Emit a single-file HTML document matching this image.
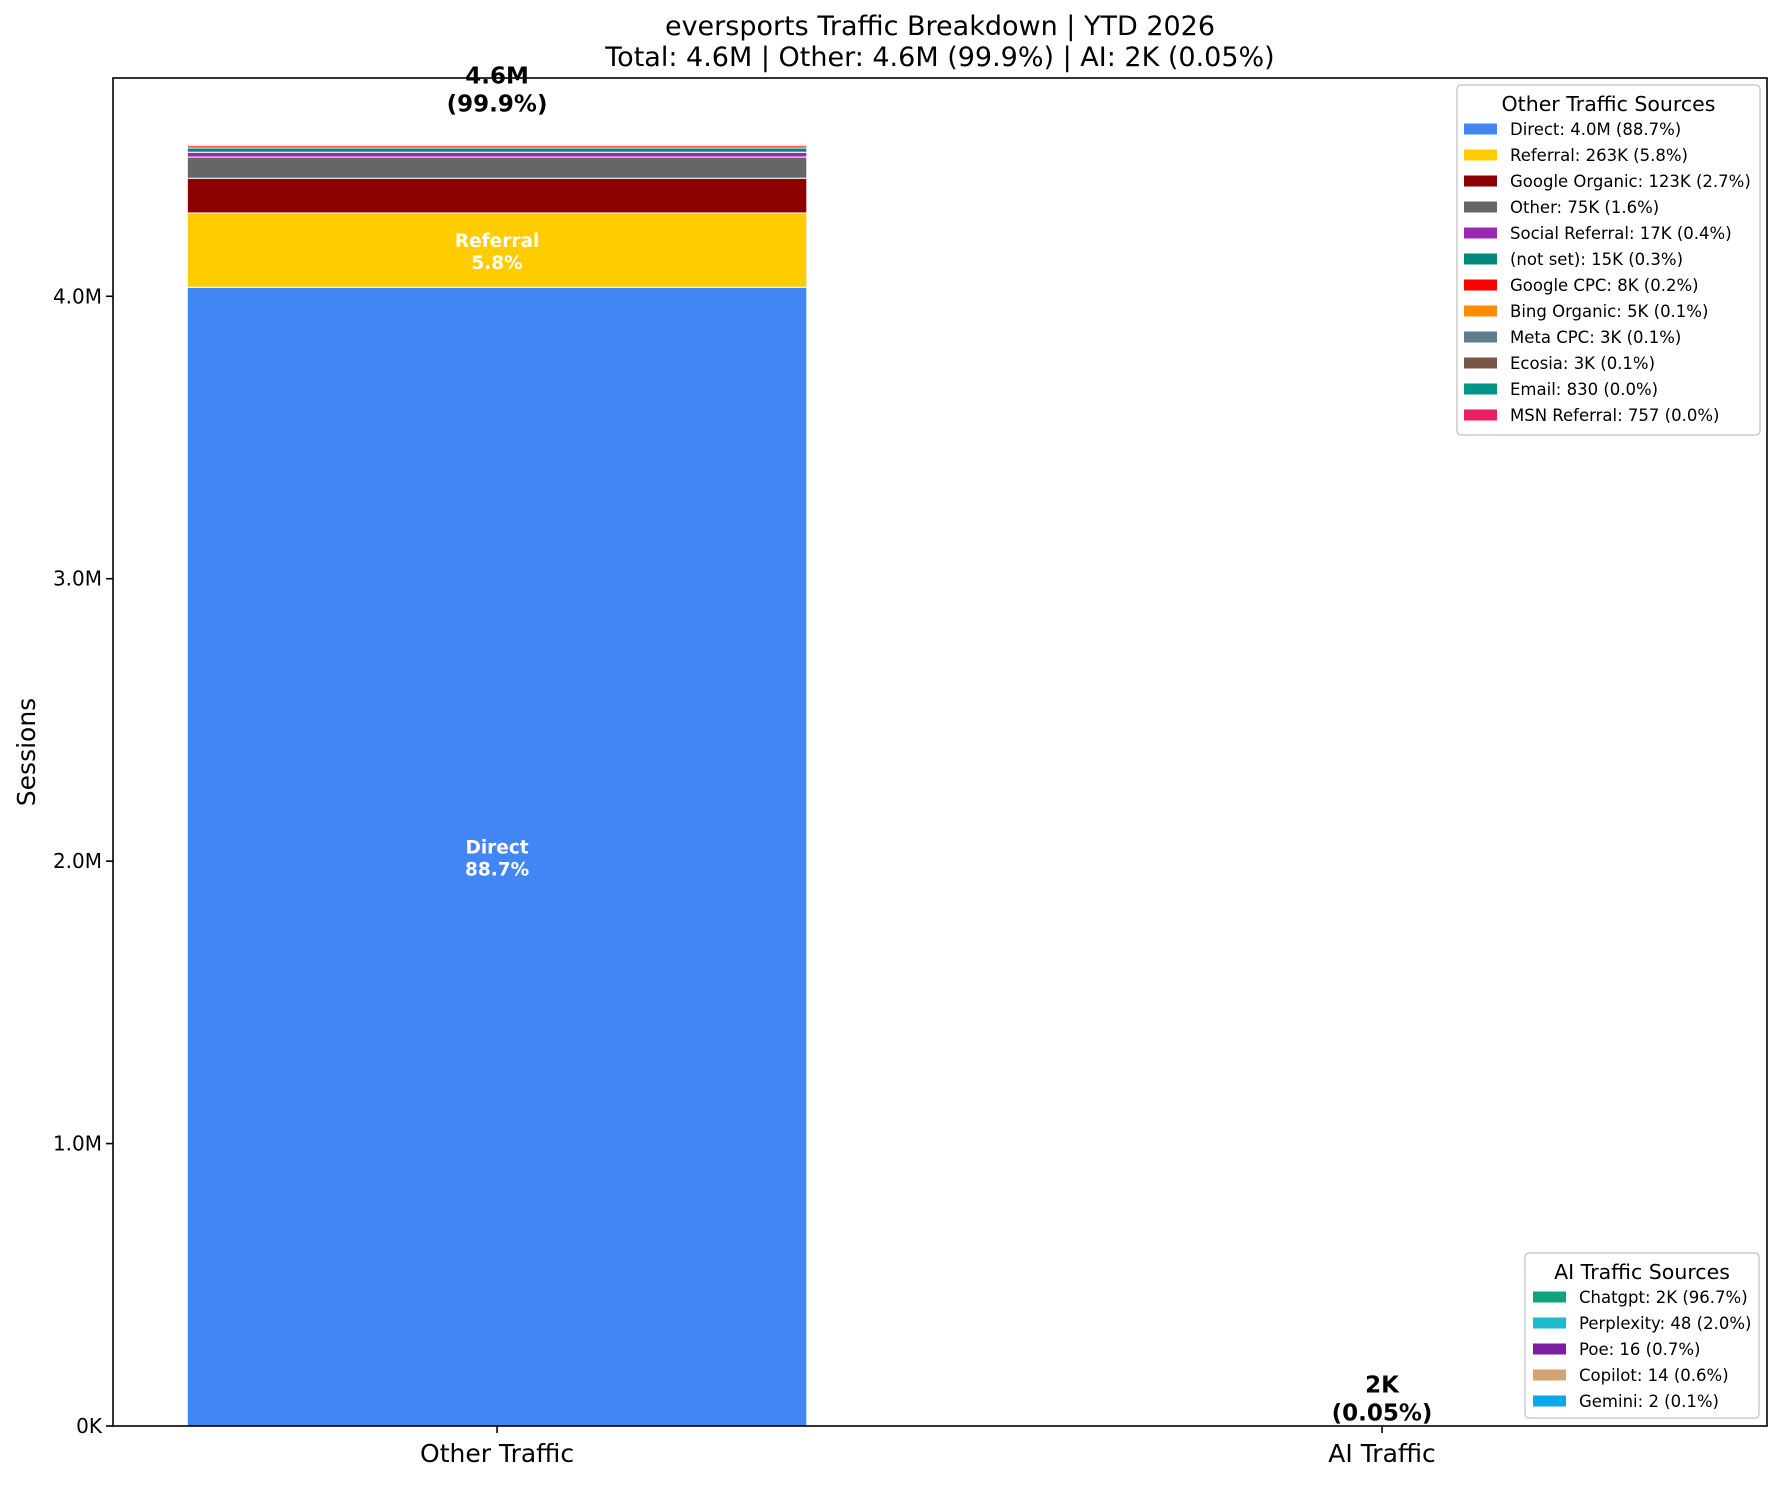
<!DOCTYPE html>
<html><head><meta charset="utf-8"><style>
body{margin:0;background:#fff}
svg text{font-family:"DejaVu Sans","Liberation Sans",sans-serif}
</style></head><body>
<svg id="chart" width="1782" height="1480" viewBox="0 0 1782 1480" xmlns="http://www.w3.org/2000/svg">
<rect width="1782" height="1480" fill="#fff"/>
<text x="940" y="35" font-size="27" text-anchor="middle">eversports Traffic Breakdown | YTD 2026</text>
<text x="940" y="66" font-size="27" text-anchor="middle">Total: 4.6M | Other: 4.6M (99.9%) | AI: 2K (0.05%)</text>
<text transform="translate(35,752) rotate(-90)" font-size="25" text-anchor="middle">Sessions</text>
<g id="plot"></g>
</svg>
<script>
const categories = ["Other Traffic", "AI Traffic"];
const otherNames = ["Direct","Referral","Google Organic","Other","Social Referral","(not set)","Google CPC","Bing Organic","Meta CPC","Ecosia","Email","MSN Referral"];
const otherValues = [4032000,263000,123000,75000,17000,15000,8000,5000,3000,3000,830,757];
const otherLabels = ["4.0M","263K","123K","75K","17K","15K","8K","5K","3K","3K","830","757"];
const otherColors = ["#4285F4","#FFCC00","#8B0000","#666666","#9C27B0","#00897B","#FF0000","#FF8C00","#607D8B","#795548","#009688","#E91E63"];
const aiNames = ["Chatgpt","Perplexity","Poe","Copilot","Gemini"];
const aiValues = [2321,48,16,14,2];
const aiLabels = ["2K","48","16","14","2"];
const aiColors = ["#10A37F","#20B8CD","#7B1FA2","#D4A373","#0EA5E9"];
const yTicks = [0,1000000,2000000,3000000,4000000];
const yTickLabels = ["0K","1.0M","2.0M","3.0M","4.0M"];

const NS="http://www.w3.org/2000/svg";
const g=document.getElementById('plot');
const L=113,R=1767,T=78,B=1426;
const sum=a=>a.reduce((s,v)=>s+v,0);
const otherTotal=sum(otherValues), aiTotal=sum(aiValues), grand=otherTotal+aiTotal;
const yMax=Math.max(otherTotal,aiTotal)*1.05;
const y=v=>B-(v/yMax)*(B-T);
const xMin=-0.434,xMax=1.435;
const x=i=>L+(i-xMin)/(xMax-xMin)*(R-L);
const bw=0.7*(R-L)/(xMax-xMin);
function el(tag,attrs,text){const e=document.createElementNS(NS,tag);for(const k in attrs)e.setAttribute(k,attrs[k]);if(text!==undefined)e.textContent=text;g.appendChild(e);return e;}
const fmtPct=v=>(v*100).toFixed(1)+'%';

function stack(ci,vals,names,colors,total){
  let base=0;
  vals.forEach((v,i)=>{
    const r=el('rect',{x:x(ci)-bw/2,y:y(base+v),width:bw,height:y(base)-y(base+v),fill:colors[i],stroke:'#fff','stroke-width':1});
    
    
    if(v/total>0.05){
      const cy=(y(base)+y(base+v))/2;
      const t1=el('text',{x:x(ci),y:cy-3,'font-size':18.5,'font-weight':'bold',fill:'#fff','text-anchor':'middle'},names[i]);
      
      
      const t2=el('text',{x:x(ci),y:cy+19,'font-size':18.5,'font-weight':'bold',fill:'#fff','text-anchor':'middle'},fmtPct(v/total));
      
      
    }
    base+=v;
  });
}
stack(0,otherValues,otherNames,otherColors,otherTotal);
stack(1,aiValues,aiNames,aiColors,aiTotal);

[[0,otherTotal,"4.6M","(99.9%)"],[1,aiTotal,"2K","(0.05%)"]].forEach(([ci,tot,a,b])=>{
  const by=y(tot*1.02);
  const t1=el('text',{x:x(ci),y:by-33,'font-size':23,'font-weight':'bold','text-anchor':'middle'},a);
  
  
  const t2=el('text',{x:x(ci),y:by-5,'font-size':23,'font-weight':'bold','text-anchor':'middle'},b);
  
  
});

const frame=el('rect',{x:L,y:T,width:R-L,height:B-T,fill:'none',stroke:'#000','stroke-width':1.6});


yTicks.forEach((v,i)=>{
  const tk=el('line',{x1:L-7,x2:L,y1:y(v),y2:y(v),stroke:'#000','stroke-width':1.6});
  
  
  const tl=el('text',{x:L-11,y:y(v)+7,'font-size':20,'text-anchor':'end'},yTickLabels[i]);
  
  
});
categories.forEach((c,i)=>{
  const tk=el('line',{x1:x(i),x2:x(i),y1:B,y2:B+7,stroke:'#000','stroke-width':1.6});
  
  
  const tl=el('text',{x:x(i),y:1462,'font-size':25,'text-anchor':'middle'},c);
  
  
});

function legend(lx,ly,w,h,title,names,labels,vals,total,colors,px,tx,row0,name){
  const box=el('rect',{x:lx,y:ly,width:w,height:h,rx:4,fill:'#fff','fill-opacity':0.8,stroke:'#ccc','stroke-width':1.5});
  
  
  const tt=el('text',{x:lx+w/2,y:ly+26,'font-size':20.5,'text-anchor':'middle'},title);
  
  
  names.forEach((n,i)=>{
    const cy=row0+i*26;
    const p=el('rect',{x:px,y:cy-5.5,width:33,height:11,fill:colors[i]});
    
    
    const t=el('text',{x:tx,y:cy+6,'font-size':16.5},n+': '+labels[i]+' ('+fmtPct(vals[i]/total)+')');
    
    
  });
}
legend(1457,85,303,350,"Other Traffic Sources",otherNames,otherLabels,otherValues,otherTotal,otherColors,1464,1510,129,'other-legend');
legend(1525,1253,234,165,"AI Traffic Sources",aiNames,aiLabels,aiValues,aiTotal,aiColors,1533,1579,1297,'ai-legend');
</script>
</body></html>
